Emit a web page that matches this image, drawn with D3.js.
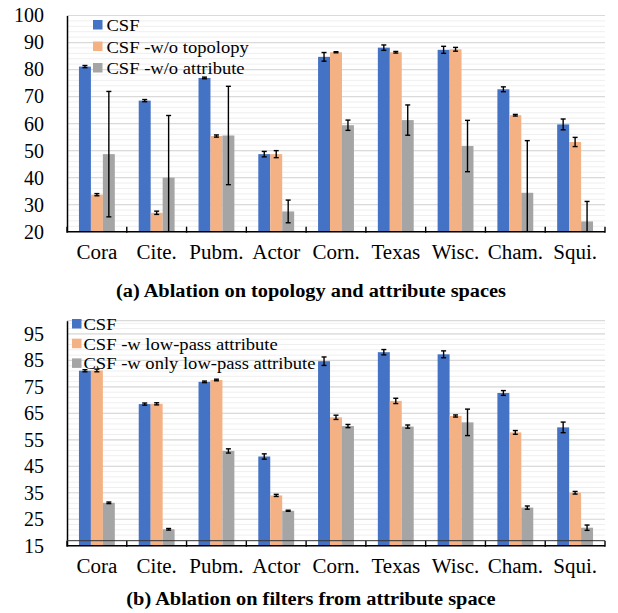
<!DOCTYPE html>
<html>
<head>
<meta charset="utf-8">
<script src="https://cdn.jsdelivr.net/npm/d3@7"></script>
<style>
    body { margin: 0; background: #fff; }
</style>
</head>
<body>
<div class="chart"></div>
<script>

const categories = ["Cora", "Cite.", "Pubm.", "Actor", "Corn.", "Texas", "Wisc.", "Cham.", "Squi."];

const csf = [81.1, 68.5, 76.9, 48.7, 84.7, 88.1, 87.3, 72.7, 59.7];
const csfErr = [0.4, 0.4, 0.3, 1.0, 1.6, 1.0, 1.3, 0.9, 2.0];

// panel (a)
const woTopology = [33.7, 27.0, 55.4, 48.7, 86.4, 86.4, 87.5, 63.1, 53.2];
const woTopologyErr = [0.4, 0.6, 0.4, 1.3, 0.2, 0.3, 0.7, 0.3, 1.7];
const woAttribute = [48.7, 40.0, 55.6, 27.5, 59.4, 61.3, 51.7, 34.4, 23.8];
const woAttributeErr = [23.2, 23.0, 18.2, 4.2, 1.9, 5.6, 9.5, 19.3, 7.4];

// panel (b)
const lowPass = [81.2, 68.6, 77.6, 34.0, 63.5, 69.7, 64.0, 57.8, 35.0];
const lowPassErr = [0.5, 0.4, 0.3, 0.4, 0.8, 1.0, 0.4, 0.7, 0.5];
const onlyLowPass = [31.2, 21.2, 50.8, 28.2, 60.2, 60.0, 61.6, 29.4, 21.8];
const onlyLowPassErr = [0.3, 0.3, 0.8, 0.2, 0.6, 0.6, 5.0, 0.6, 1.0];

const ticksA = [20, 30, 40, 50, 60, 70, 80, 90, 100];
const ticksB = [15, 25, 35, 45, 55, 65, 75, 85, 95];

const colors = ["#4472C4", "#F4B183", "#A5A5A5"];
const serif = "'Liberation Serif', 'Times New Roman', serif";

const svg = d3.select(".chart")
    .append("svg")
    .attr("width", 618)
    .attr("height", 613);

// the source glyphs are a bit wider than Liberation Serif
function stretch(sel, k){
    sel.each(function(){
        const w = this.getComputedTextLength();
        d3.select(this)
            .attr("textLength", w * k)
            .attr("lengthAdjust", "spacingAndGlyphs");
    });
}

function drawPanel(p){

    const x = d3.scaleBand()
        .domain(categories)
        .range([67, 605])
        .paddingInner(0.4)
        .paddingOuter(0.2);

    const xs = d3.scaleBand()
        .domain([0, 1, 2])
        .range([0, x.bandwidth()]);

    const y = d3.scaleLinear()
        .domain(p.domain)
        .range([p.bottom, p.top]);

    const g = svg.append("g");

    //Grid

    g.selectAll(".minor")
        .data(d3.range(p.domain[0], p.domain[1] + 0.01, 2))
        .enter()
        .append("line")
        .attr("x1", 67)
        .attr("x2", 605)
        .attr("y1", d => y(d))
        .attr("y2", d => y(d))
        .attr("stroke", "#efefef")
        .attr("stroke-width", 1);

    g.selectAll(".major")
        .data(p.ticks.concat([p.domain[1]]))
        .enter()
        .append("line")
        .attr("x1", 67)
        .attr("x2", 605)
        .attr("y1", d => y(d))
        .attr("y2", d => y(d))
        .attr("stroke", "#dadada")
        .attr("stroke-width", 1.2);

    //Bars

    const rows = [];
    p.series.forEach((s, i) => {
        s.values.forEach((v, j) => {
            rows.push({cat: categories[j], s: i, v: v, e: s.errs[j]});
        });
    });

    g.selectAll("rect.bar")
        .data(rows)
        .enter()
        .append("rect")
        .attr("class", "bar")
        .attr("x", d => x(d.cat) + xs(d.s))
        .attr("width", xs.bandwidth())
        .attr("y", d => y(d.v))
        .attr("height", d => y(p.domain[0]) - y(d.v))
        .attr("fill", d => colors[d.s]);

    //Error bars

    const cx = d => x(d.cat) + xs(d.s) + xs.bandwidth() / 2;
    const lo = d => y(Math.max(p.domain[0], d.v - d.e));
    const hi = d => y(d.v + d.e);

    g.selectAll("line.err")
        .data(rows)
        .enter()
        .append("line")
        .attr("x1", cx)
        .attr("x2", cx)
        .attr("y1", lo)
        .attr("y2", hi)
        .attr("stroke", "#000")
        .attr("stroke-width", 1.4);

    g.selectAll("line.capTop")
        .data(rows)
        .enter()
        .append("line")
        .attr("x1", d => cx(d) - 2.5)
        .attr("x2", d => cx(d) + 2.5)
        .attr("y1", hi)
        .attr("y2", hi)
        .attr("stroke", "#000")
        .attr("stroke-width", 1.4);

    g.selectAll("line.capBot")
        .data(rows.filter(d => d.v - d.e > p.domain[0]))
        .enter()
        .append("line")
        .attr("x1", d => cx(d) - 2.5)
        .attr("x2", d => cx(d) + 2.5)
        .attr("y1", lo)
        .attr("y2", lo)
        .attr("stroke", "#000")
        .attr("stroke-width", 1.4);

    //Ejes

    const yAxis = g.append("g")
        .attr("transform", "translate(67,0)")
        .call(d3.axisLeft(y).tickValues(p.ticks).tickSize(0).tickPadding(23));

    yAxis.select(".domain")
        .attr("stroke", "#000")
        .attr("stroke-width", 1.5);

    yAxis.selectAll("text")
        .attr("font-size", 20)
        .attr("fill", "#000")
        .style("font-family", serif);

    const xAxis = g.append("g")
        .attr("transform", `translate(0,${p.bottom})`)
        .call(d3.axisBottom(x).tickSize(0).tickPadding(13));

    xAxis.select(".domain")
        .attr("d", "M67,0H605")
        .attr("stroke", "#000")
        .attr("stroke-width", 1.5);

    xAxis.selectAll("text")
        .attr("font-size", 20)
        .attr("fill", "#000")
        .style("font-family", serif)
        .call(stretch, 1.05);

    // category separators
    const seps = d3.range(categories.length + 1).map(i => 67 + i * x.step());

    g.selectAll(".sep")
        .data(seps)
        .enter()
        .append("line")
        .attr("x1", d => d)
        .attr("x2", d => d)
        .attr("y1", p.bottom - 5)
        .attr("y2", p.bottom + 1)
        .attr("stroke", "#000")
        .attr("stroke-width", 1.4);

    if (p.innerLine) {
        g.append("line")
            .attr("x1", 67)
            .attr("x2", 605)
            .attr("y1", p.bottom - 5)
            .attr("y2", p.bottom - 5)
            .attr("stroke", "#333")
            .attr("stroke-width", 1);
    }

    //Legend

    const leg = g.selectAll(".leg")
        .data(p.series)
        .enter()
        .append("g")
        .attr("transform", (d, i) => `translate(${p.legX},${p.legY + i * p.legStep})`);

    leg.append("rect")
        .attr("x", 0)
        .attr("y", -5)
        .attr("width", 9.5)
        .attr("height", 9.5)
        .attr("fill", (d, i) => colors[i]);

    leg.append("text")
        .attr("x", p.legText)
        .attr("y", 6)
        .attr("font-size", 17.5)
        .style("font-family", serif)
        .text(d => d.name)
        .call(stretch, 1.06);

    //Caption

    svg.append("text")
        .attr("x", 311)
        .attr("y", p.caption)
        .attr("text-anchor", "middle")
        .attr("font-size", 18.5)
        .attr("font-weight", "bold")
        .style("font-family", serif)
        .text(p.title)
        .call(stretch, 1.1);
}

drawPanel({
    domain: [20, 100],
    ticks: ticksA,
    top: 15.5,
    bottom: 231.7,
    caption: 297,
    title: "(a) Ablation on topology and attribute spaces",
    legX: 93,
    legY: 25,
    legStep: 21.5,
    legText: 13.5,
    series: [
        {name: "CSF", values: csf, errs: csfErr},
        {name: "CSF -w/o topolopy", values: woTopology, errs: woTopologyErr},
        {name: "CSF -w/o attribute", values: woAttribute, errs: woAttributeErr}
    ]
});

drawPanel({
    domain: [15, 100],
    ticks: ticksB,
    top: 320.7,
    bottom: 545.7,
    caption: 605,
    innerLine: true,
    title: "(b) Ablation on filters from attribute space",
    legX: 72,
    legY: 324,
    legStep: 19.7,
    legText: 11.5,
    series: [
        {name: "CSF", values: csf, errs: csfErr},
        {name: "CSF -w low-pass attribute", values: lowPass, errs: lowPassErr},
        {name: "CSF -w only low-pass attribute", values: onlyLowPass, errs: onlyLowPassErr}
    ]
});

</script>
</body>
</html>
